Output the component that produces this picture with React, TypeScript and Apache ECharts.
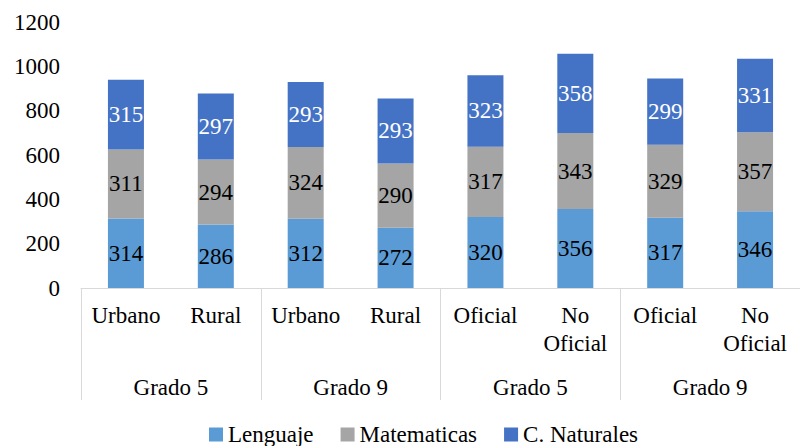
import React, { useEffect, useRef } from "react";
import * as echarts from "echarts";

const categories = ["Urbano", "Rural", "Urbano", "Rural", "Oficial", "No\nOficial", "Oficial", "No\nOficial"];
const groups = ["Grado 5", "Grado 9", "Grado 5", "Grado 9"];
const lenguaje = [314, 286, 312, 272, 320, 356, 317, 346];
const matematicas = [311, 294, 324, 290, 317, 343, 329, 357];
const naturales = [315, 297, 293, 293, 323, 358, 299, 331];
const yTicks = { min: 0, max: 1200, interval: 200 };

const FONT = "Liberation Serif";
const FS = 23;

export default function App() {
  const ref = useRef<HTMLDivElement>(null);
  useEffect(() => {
    if (!ref.current) return;
    const chart = echarts.init(ref.current, null, { renderer: "svg" });
    const label = (color: string) => ({
      show: true,
      position: "inside" as const,
      color,
      fontFamily: FONT,
      fontSize: FS,
    });
    chart.setOption({
      animation: false,
      textStyle: { fontFamily: FONT },
      grid: { left: 81, right: -9, top: 22, bottom: 158, containLabel: false },
      legend: {
        left: 204,
        top: 418,
        itemWidth: 14,
        itemHeight: 14,
        itemGap: 27,
        icon: "rect",
        textStyle: { fontFamily: FONT, fontSize: FS, color: "#000" },
        data: ["Lenguaje", "Matematicas", "C. Naturales"],
      },
      xAxis: [
        {
          type: "category",
          data: categories,
          position: "bottom",
          axisLine: { show: true, lineStyle: { color: "#d9d9d9", width: 1 } },
          axisTick: { show: false },
          axisLabel: {
            interval: 0,
            margin: 13,
            fontFamily: FONT,
            fontSize: FS,
            color: "#000",
            lineHeight: 28,
          },
        },
        {
          type: "category",
          data: groups,
          position: "bottom",
          boundaryGap: true,
          axisLine: { show: false },
          axisTick: { show: true, interval: 0, length: 112, lineStyle: { color: "#d9d9d9", width: 1 } },
          axisLabel: {
            interval: 0,
            margin: 85,
            fontFamily: FONT,
            fontSize: FS,
            color: "#000",
            lineHeight: 28,
          },
        },
      ],
      yAxis: {
        type: "value",
        min: yTicks.min,
        max: yTicks.max,
        interval: yTicks.interval,
        axisLine: { show: false },
        axisTick: { show: false },
        splitLine: { show: false },
        axisLabel: {
          margin: 21,
          fontFamily: FONT,
          fontSize: FS,
          color: "#000",
          formatter: (v: number) => String(v),
        },
      },
      series: [
        {
          name: "Lenguaje",
          type: "bar",
          stack: "total",
          barWidth: 36,
          data: lenguaje,
          itemStyle: { color: "#5B9BD5" },
          label: label("#000"),
        },
        {
          name: "Matematicas",
          type: "bar",
          stack: "total",
          barWidth: 36,
          data: matematicas,
          itemStyle: { color: "#A5A5A5" },
          label: label("#000"),
        },
        {
          name: "C. Naturales",
          type: "bar",
          stack: "total",
          barWidth: 36,
          data: naturales,
          itemStyle: { color: "#4472C4" },
          label: label("#fff"),
        },
      ],
    });
    return () => chart.dispose();
  }, []);
  return (
    <div
      ref={ref}
      style={{ position: "fixed", left: 0, top: 0, width: 800, height: 446, background: "#fff" }}
    />
  );
}
